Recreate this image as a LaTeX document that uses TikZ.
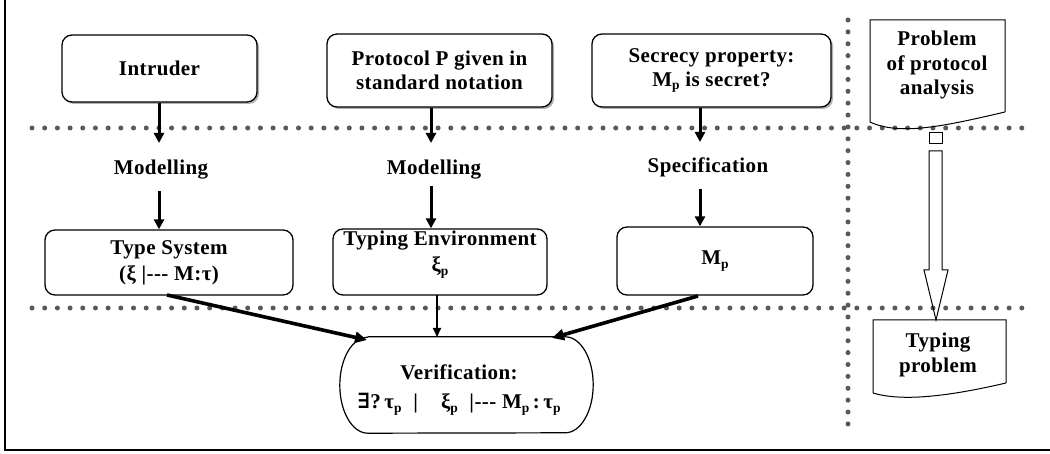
\documentclass[tikz,border=0pt]{standalone}
\usepackage{fontspec}
\setmainfont{Liberation Serif}[LetterSpace=2]
\newfontfamily\symf{DejaVu Serif}
\usetikzlibrary{arrows.meta,shadows}
\newcommand\mysub[1]{\raisebox{-0.35ex}{\fontsize{13.5}{13.5}\selectfont #1}}
\begin{document}
\begin{tikzpicture}[x=1pt,y=-1pt,
  every node/.style={font=\fontsize{21}{24}\selectfont\bfseries, align=center},
  box/.style={draw, line width=1.3pt, rounded corners=10pt, inner sep=0pt},
  topbox/.style={box, fill=white, drop shadow={shadow xshift=2pt, shadow yshift=-2pt, fill=gray!60, opacity=1}},
  arr/.style={line width=3pt, -{Triangle[length=10pt,width=10pt]}},
  arrthin/.style={line width=1.8pt, -{Triangle[length=9pt,width=8pt]}},
  arrthick/.style={line width=3.6pt, -{Triangle[length=12pt,width=11pt]}},
  dots/.style={draw=black!65, line width=5pt, line cap=round, dash pattern=on 0pt off 12.69pt},
  doc/.style={draw, line width=1pt},
  lbl/.style={inner sep=0pt},
]
\useasboundingbox (0,0) rectangle (1050,454);
\fill[white] (0,0) rectangle (1050,454);
% frame
\draw[line width=2.5pt] (5,0) -- (5,450) -- (1050,450);
% dotted separators
\draw[dots] (32,128) -- (1023,128);
\draw[dots] (32,308) -- (1023,308);
\draw[dots, dash pattern=on 0pt off 11.88pt] (848,20) -- (848,424);

% top boxes
\node[topbox, minimum width=195pt, minimum height=67pt] (intr) at (159.5,68.5) {Intruder};
\node[topbox, minimum width=225pt, minimum height=73pt] (prot) at (439.5,70.5) {Protocol P given in\\standard notation};
\node[topbox, minimum width=239pt, minimum height=73pt] (secr) at (711.5,70.5) {Secrecy property:\\M\mysub{p} is secret?};

% labels
\node[lbl] (mod1) at (161,170) {Modelling};
\node[lbl] (mod2) at (434,170) {Modelling};
\node[lbl] (spec) at (708,167) {Specification};

% middle boxes
\node[box, minimum width=248pt, minimum height=65pt, font=\fontsize{21}{26}\selectfont\bfseries] (tsys) at (169,262.5) {Type System\\(ξ \mbox{|-{}-{}-} M:τ)};
\node[box, minimum width=214pt, minimum height=66pt, font=\fontsize{21}{26}\selectfont\bfseries] (tenv) at (440,262) {Typing Environment\\ξ\mysub{p}\\[-5pt]};
\node[box, minimum width=196pt, minimum height=68pt] (mp) at (715,261) {M\mysub{p}};

% verification
\node[minimum width=253pt, minimum height=96pt, inner sep=0pt] (verif) at (466.5,385) {};
\node[lbl, font=\fontsize{21}{29}\selectfont\bfseries] (vtxt) at (459,390) {Verification:\\{\symf\bfseries ∃}?\,τ\mysub{p}\;\;|\;\;\; ξ\mysub{p}\; \mbox{|-{}-{}-} M\mysub{p}\,:\,τ\mysub{p}};
\draw[line width=1.2pt] ([xshift=28pt]verif.north west) -- ([xshift=-28pt]verif.north east)
  arc[start angle=90, end angle=-90, x radius=28pt, y radius=48pt]
  -- ([xshift=28pt]verif.south west)
  arc[start angle=270, end angle=90, x radius=28pt, y radius=48pt];

% connector coordinates
\coordinate (a1) at (159,143);
\coordinate (a2) at (431,143);
\coordinate (a3) at (700,142);
\coordinate (b1) at (159,191);
\coordinate (b2) at (431,186);
\coordinate (b3) at (700,189);
\coordinate (vL) at (367,340);
\coordinate (vM) at (437,337);
\coordinate (vR) at (552,338);
\coordinate (tsysout) at (167,295);
\coordinate (tenvout) at (437,295);
\coordinate (mpout) at (698,296);

\draw[arr] (intr.south -| a1) -- (a1);
\draw[arr] (prot.south -| a2) -- (a2);
\draw[arr] (secr.south -| a3) -- (a3);
\draw[arr] (b1) -- (tsys.north -| b1);
\draw[arr] (b2) -- (tenv.north -| b2);
\draw[arr] (b3) -- (mp.north -| b3);
\draw[arrthick] (tsysout) -- (vL);
\draw[arrthin] (tenvout) -- (vM);
\draw[arrthick] (mpout) -- (vR);

% right column: documents
\node[lbl, font=\fontsize{21}{24.5}\selectfont\bfseries] (prob) at (937,65) {Problem\\of protocol\\analysis};
\draw[doc] (1005,112) -- (1005,20) -- (870,20) -- (870,122)
  .. controls (900,136) and (945,126) .. (1005,112);
\node[lbl, font=\fontsize{21}{25}\selectfont\bfseries] (typp) at (938,355) {Typing\\problem};
\draw[doc] (1006,383) -- (1006,320) -- (873,320) -- (873,393)
  .. controls (903,402) and (950,396) .. (1006,383);
% hollow arrow
\draw[line width=1pt] (929,133) rectangle (942,144);
\draw[line width=1pt] (929,151) -- (942,151) -- (942,270) -- (948,270) -- (936,320) -- (924,270) -- (929,270) -- cycle;
\end{tikzpicture}
\end{document}
